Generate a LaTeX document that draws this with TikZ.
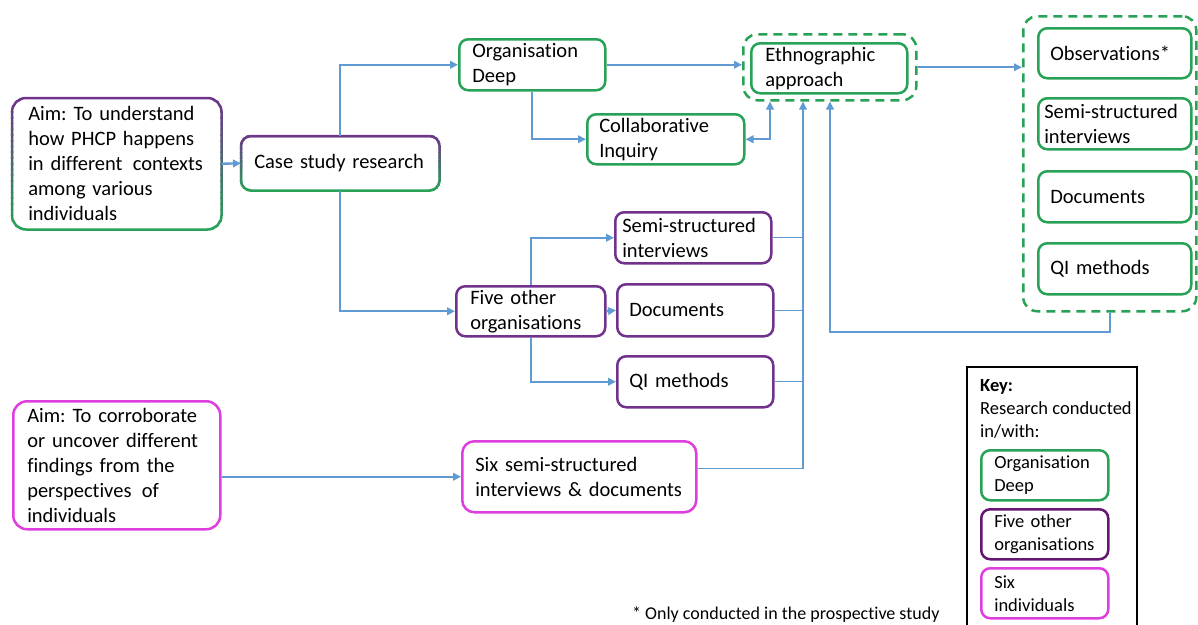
\documentclass[tikz,border=0pt]{standalone}
\usepackage{fontspec}
\setmainfont{Carlito}[Ligatures=NoCommon]
\usetikzlibrary{arrows.meta,calc}
\definecolor{cgreen}{RGB}{40,162,86}
\definecolor{cpurple}{RGB}{112,50,140}
\definecolor{cdpurple}{RGB}{100,22,112}
\definecolor{cmag}{RGB}{222,62,222}
\definecolor{cblue}{RGB}{95,155,210}
\frenchspacing

% border of a node shaded from purple (top) to green (bottom):
% an outline copy of the node is drawn in thin horizontal strips
\newcommand{\gradring}[2]{%
  \foreach \i [evaluate=\i as \pc using {int(100-100*\i/23)}] in {0,...,23}{%
    \begin{scope}
      \clip let \p1=(#1.north), \p2=(#1.south), \n1={(\y1-\y2+6pt)/24} in
        (0pt, {\y1+3pt-\i*\n1+0.3}) rectangle (1198pt, {\y1+3pt-(\i+1)*\n1-0.3});
      \path let \p3=($(#1.north east)-(#1.south west)$) in
        node[draw=cpurple!\pc!cgreen, line width=2.5pt, rounded corners=#2, inner sep=0pt,
          minimum width=\x3, minimum height=\y3] (#1-rim-\i) at (#1.center) {};
    \end{scope}}}

\begin{document}
\begin{tikzpicture}[x=1pt,y=-1pt,
  box/.style={line width=2.5pt, rounded corners=9pt, anchor=north west, align=left,
    inner xsep=12pt, inner ysep=0pt, font=\fontsize{20.5}{25}\selectfont},
  gbox/.style={box, draw=cgreen},
  pbox/.style={box, draw=cpurple},
  mbox/.style={box, draw=cmag},
  nobox/.style={box, draw=none},
  grp/.style={draw=cgreen, line width=2.5pt, dash pattern=on 9pt off 6pt,
    rounded corners=14pt, anchor=north west, inner sep=0pt},
  arr/.style={draw=cblue, line width=2.4pt, -{Triangle[length=8pt,width=7.5pt]}},
  darr/.style={draw=cblue, line width=2.4pt, {Triangle[length=8pt,width=7.5pt]}-{Triangle[length=8pt,width=7.5pt]}},
  tarr/.style={draw=cblue, line width=1.7pt, -{Triangle[length=8pt,width=7.5pt]}},
  link/.style={draw=cblue, line width=1.3pt},
  keybox/.style={box, inner xsep=13pt, font=\fontsize{18.5}{23}\selectfont,
    minimum width=127pt, minimum height=50pt, text width=101pt},
  keytext/.style={anchor=north west, align=left, inner sep=0pt, font=\fontsize{18.5}{23}\selectfont},
]
\useasboundingbox (0,0) rectangle (1198,624);

% aims
\node[nobox, minimum width=207pt, minimum height=129pt, text width=177pt, inner xsep=15pt] (aim1) at (12,98)
  {Aim: To understand\\how PHCP happens\\in different\, contexts\\among various\\individuals};
\gradring{aim1}{14pt}
\node[mbox, rounded corners=14pt, minimum width=207pt, minimum height=128pt, text width=179pt, inner xsep=14pt] (aim2) at (12,400)
  {Aim: To corroborate\\or uncover different\\findings from the\\perspectives\, of\\individuals};

% case study
\node[nobox, minimum width=196pt, minimum height=52pt, text width=172pt] (case) at (241,136) {Case study research};
\gradring{case}{10pt}

% Organisation Deep branch
\node[gbox, minimum width=146pt, minimum height=51pt, text width=120pt, inner xsep=13pt] (od) at (458,38) {Organisation\\Deep};
\node[gbox, minimum width=157pt, minimum height=50pt, text width=133pt] (ci) at (586,113) {Collaborative\\Inquiry};
\node[grp, minimum width=173pt, minimum height=66pt] (ethg) at (742,33) {};
\node[gbox, minimum width=156pt, minimum height=50pt, text width=128pt, inner xsep=14pt] (eth) at (750,42) {Ethnographic\\approach};

% methods group
\node[grp, minimum width=173pt, minimum height=295pt] (grp) at (1022,15) {};
\node[gbox, minimum width=153pt, minimum height=50pt, text width=129pt] (obs) at (1037,27) {Observations*};
\node[gbox, minimum width=153pt, minimum height=51pt, text width=141pt, inner xsep=6pt] (gsemi) at (1037,97) {Semi-structured\\interviews};
\node[gbox, minimum width=153pt, minimum height=51pt, text width=129pt] (gdoc) at (1037,170) {Documents};
\node[gbox, minimum width=153pt, minimum height=51pt, text width=129pt] (gqi) at (1037,242) {QI methods};

% five other organisations branch
\node[pbox, minimum width=149pt, minimum height=50pt, text width=121pt, inner xsep=14pt] (five) at (455,285) {Five other\\organisations};
\node[pbox, minimum width=156pt, minimum height=51pt, text width=142pt, inner xsep=7pt] (semi) at (614,211) {Semi-structured\\interviews};
\node[pbox, minimum width=156pt, minimum height=52pt, text width=132pt] (docs) at (616,283) {Documents};
\node[pbox, minimum width=156pt, minimum height=51pt, text width=132pt] (qi) at (616,355) {QI methods};

% individuals
\node[mbox, rounded corners=12pt, minimum width=234pt, minimum height=71pt, text width=208pt, inner xsep=13pt] (six) at (461,440)
  {Six semi-structured\\interviews \& documents};

% connectors
\draw[arr] (aim1.east) -- (case.west);
\draw[arr] (case.north) |- (od.west);
\draw[arr] (case.south) |- (five.west);
\draw[arr] (od.south) |- (ci.west);
\draw[arr] (od.east) -- (od.east -| ethg.west);
\coordinate (ciup) at (770,0);
\draw[darr] (ci.east) -| (ciup |- ethg.south);
\draw[tarr] (ethg.east) -- (ethg.east -| grp.west);
\draw[arr] (five.north) |- (semi.west);
\draw[arr] (five.east) -- (docs.west);
\draw[arr] (five.south) |- (qi.west);
\draw[arr] (aim2.east |- six.west) -- (six.west);

\coordinate (busA) at (803,0);
\coordinate (sixout) at ($(six.east)+(0,-8)$);
\draw[link] (semi.east) -- (semi.east -| busA);
\draw[link] (docs.east) -- (docs.east -| busA);
\draw[link] (qi.east) -- (qi.east -| busA);
\draw[link] (sixout) -- (sixout -| busA);
\draw[tarr] (sixout -| busA) -- (busA |- ethg.south);

\coordinate (busB) at (830,332);
\draw[arr] (grp.south) |- (busB) -- (busB |- ethg.south);

% key
\draw[black, line width=1.5pt] (967,626) -- (967,367) -- (1137,367) -- (1137,626);
\node[keytext] (keyt) at (980,379) {\textbf{Key:}\\Research conducted\\in/with:};
\node[keybox, draw=cgreen] (k1) at (980,449) {Organisation\\Deep};
\node[keybox, draw=cdpurple] (k2) at (980,508) {Five other\\organisations};
\node[keybox, draw=cmag] (k3) at (980,567) {Six\\individuals};

% footnote
\node[anchor=west, inner sep=0pt, font=\fontsize{18}{22}\selectfont] (note) at (632,615) {* Only conducted in the prospective study};
\end{tikzpicture}
\end{document}
